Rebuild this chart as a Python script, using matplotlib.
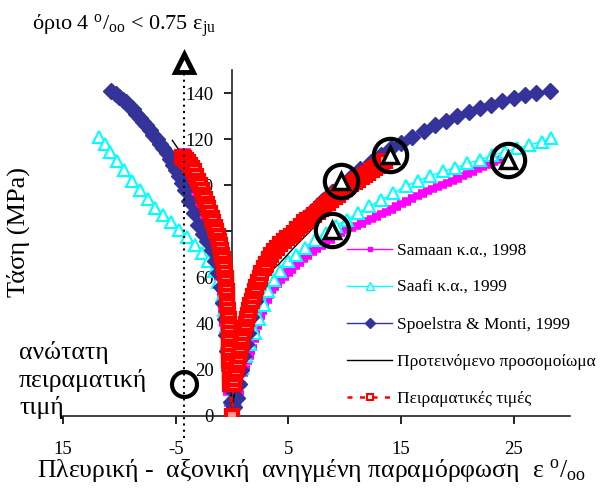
import matplotlib
matplotlib.use("Agg")
import matplotlib.pyplot as plt
from matplotlib.lines import Line2D

plt.rcParams['font.family'] = ['Liberation Serif', 'DejaVu Serif']
plt.rcParams['mathtext.fontset'] = 'custom'
plt.rcParams['mathtext.rm'] = 'Liberation Serif'
plt.rcParams['mathtext.it'] = 'Liberation Serif:italic'

# ---------------- data ----------------
# Samaan et al., 1998 (lateral strain negative, axial strain positive)
samaan_x = [-4.25, -4.15, -4.05, -3.95, -3.85, -3.7, -3.6, -3.45, -3.3, -3.1, -2.95, -2.8, -2.6, -2.4,
            -2.2, -2.0, -1.8, -1.65, -1.5, -1.35, -1.2, -1.1, -1.0, -0.9, -0.8, -0.75, -0.7, -0.65,
            -0.6, -0.55, -0.5, -0.45, -0.4, -0.35, -0.3, -0.25, -0.2, -0.15, -0.1, 0.0,
            0.2, 0.4, 0.6, 0.8, 1.0, 1.15, 1.3, 1.45, 1.6, 1.75, 1.9, 2.05, 2.2, 2.35, 2.5, 2.7, 2.9,
            3.1, 3.3, 3.55, 3.8, 4.1, 4.4, 4.75, 5.1, 5.45, 5.8, 6.15, 6.5, 6.9, 7.3, 7.7, 8.1, 8.55,
            9.0, 9.45, 9.9, 10.35, 10.8, 11.25, 11.7, 12.15, 12.6, 13.05, 13.5, 13.95, 14.4, 14.85,
            15.3, 15.75, 16.2, 16.65, 17.1, 17.55, 18.0, 18.45, 18.9, 19.35, 19.8, 20.25, 20.7,
            21.15, 21.6, 22.05, 22.5, 22.95, 23.4, 23.8, 24.2]
samaan_y = [115, 112.5, 110, 107.5, 105, 102.5, 100, 97.5, 95, 92.5, 90, 87.5, 85, 82.5,
            80, 77.5, 75, 72.5, 70, 67.5, 65, 62.5, 60, 57.5, 55, 52.5, 50, 47.5,
            45, 42.5, 40, 37.5, 35, 30, 25, 20, 15, 10, 5, 0,
            5, 10, 14, 18, 21, 23.3, 25.5, 27.8, 30, 33, 36, 38.5, 41, 43, 45, 47.5, 50,
            52, 54, 55.5, 57, 58.5, 60, 61.5, 63, 64.5, 66, 67.5, 69, 70.5, 72, 73.3, 74.5, 76,
            77.5, 78.8, 80, 81, 82, 83, 84, 85, 86, 87, 88, 89, 90, 91.3,
            92.5, 93.8, 95, 96, 97, 98, 99, 99.8, 100.5, 101.5, 102.5, 103.5, 104.5,
            105.5, 106.5, 107.5, 108.5, 109.5, 110.5, 111.3, 112]

# Saafi et al., 1999
saafi_x = [-11.8, -11.3, -10.8, -10.2, -9.6, -8.9, -8.2, -7.5, -6.8, -6.1, -5.4, -4.7, -4.0, -3.3,
           -2.7, -2.1, -1.6, -1.2, -0.9, -0.7, -0.5, -0.4, -0.3, -0.2, -0.1, 0.0,
           0.3, 0.6, 0.9, 1.2, 1.6, 2.0, 2.4, 2.8, 3.2, 3.7, 4.3, 5.0, 5.7, 6.5, 7.4, 8.3, 9.2,
           10.2, 11.2, 12.2, 13.2, 14.3, 15.4, 16.5, 17.6, 18.7, 19.8, 20.9, 22.0, 23.1, 24.2,
           25.3, 26.4, 27.5, 28.3]
saafi_y = [121, 118, 114.5, 110.5, 106.5, 102, 98, 94, 90, 87, 84, 80.5, 77.5, 74,
           70.5, 67, 63, 58, 52, 46, 39, 32, 24, 16, 8, 0,
           8, 15, 21, 26, 31, 36, 42, 48, 54, 59, 63, 67, 70, 73, 76.5, 79.5, 82.5,
           85, 88, 91, 93.5, 96.5, 99.5, 102, 104, 106, 107.5, 109.5, 111, 113, 114.5,
           116, 117.5, 119, 120.5]

# Spoelstra & Monti, 1999
spoel_x = [-10.7, -10.3, -10.0, -9.7, -9.4, -9.1, -8.8, -8.5, -8.2, -7.9, -7.6, -7.3, -7.0, -6.7,
           -6.4, -6.1, -5.8, -5.5, -5.2, -4.95, -4.7, -4.45, -4.2, -3.8, -3.4,
           -3.0, -2.6, -2.2, -1.8, -1.5, -1.2, -1.0, -0.8, -0.6, -0.5, -0.4, -0.3, -0.2, -0.1, 0.0,
           0.2, 0.4, 0.6, 0.8, 1.0, 1.2, 1.4, 1.7, 2.0, 2.4, 2.9, 3.4, 4.0, 4.8, 5.6, 6.3, 7.1,
           8.0, 8.9, 9.8, 10.6, 11.4, 12.3, 13.2, 14.1, 15.0, 16.0, 17.0, 18.0, 19.0, 20.0,
           21.0, 22.0, 23.0, 24.0, 25.0, 26.0, 27.0, 28.2]
spoel_y = [141, 139.5, 138.5, 137, 136, 134.5, 133, 131, 129, 127.5, 126, 124, 122, 120,
           118, 116, 114, 111.5, 109, 106.5, 104, 101, 98, 93, 88,
           83, 79, 76, 72, 67, 62, 56, 49, 42, 35, 28, 20, 12, 6, 0,
           4, 8, 14, 20, 26, 31, 36, 43, 50, 57, 63, 68, 73, 78, 82, 85.5, 89,
           93, 97, 100.5, 103.5, 107, 110, 113, 116, 118.5, 121, 123.5, 126, 128, 130,
           132, 133.5, 135, 136.5, 138, 139, 140, 141]

# Proposed model
model_x = [-5.3, -4.8, -4.2, -3.5, -2.8, -2.1, -1.5, -1.0, -0.6, -0.35, -0.2, -0.1, 0.0,
           0.3, 0.6, 1.0, 1.5, 2.2, 3.0, 4.2, 5.5, 6.5, 7.5, 8.5, 9.5, 10.5, 11.5, 12.5, 13.5, 14.0]
model_y = [119.5, 116, 110, 102, 94, 86, 78, 70, 60, 45, 30, 15, 0,
           15, 28, 40, 50, 57, 61, 66, 73, 78, 83, 89, 95, 100, 104.5, 108.5, 112, 113.5]

# Experimental values
exp_x = [-4.45, -4.3, -4.1, -3.9, -3.7, -3.55, -3.35, -3.2, -3.0, -2.85, -2.7, -2.55, -2.4, -2.25,
         -2.1, -1.95, -1.8, -1.65, -1.5, -1.4, -1.25, -1.15, -1.05, -1.0, -0.9, -0.8, -0.75, -0.7,
         -0.6, -0.55, -0.5, -0.5, -0.45, -0.45, -0.4, -0.4, -0.35, -0.35, -0.3, -0.3, -0.3, -0.3,
         -0.3, -0.3, -0.25, -0.25, -0.25, -0.25, -0.2, -0.2, -0.2, -0.15, -0.15, 0.0,
         0.15, 0.2, 0.3, 0.35, 0.45, 0.5, 0.6, 0.7, 0.75, 0.85, 0.9, 1.0, 1.1, 1.2, 1.3, 1.4,
         1.5, 1.6, 1.75, 1.85, 2.0, 2.15, 2.3, 2.45, 2.6, 2.8, 3.0, 3.25, 3.5, 3.75, 4.0, 4.3,
         4.6, 4.9, 5.2, 5.5, 5.8, 6.1, 6.4, 6.7, 7.0, 7.3, 7.6, 7.9, 8.2, 8.5, 8.8, 9.1, 9.4,
         9.7, 10.0, 10.3, 10.6, 10.9, 11.2, 11.5, 11.8, 12.1, 12.4, 12.7, 13.0, 13.3, 13.6]
exp_y = [112.5, 112, 111, 110, 109, 107.5, 106, 104, 102, 100, 98, 96, 94, 92,
         90, 88, 86, 84, 82, 80, 78, 76, 74, 72, 70, 68, 66, 64,
         62, 60, 58, 56, 54, 52, 50, 48, 46, 44, 42, 40, 38, 36,
         34, 32, 30, 28, 26, 24, 22, 20, 18, 16, 14, 0,
         14, 16, 18, 20, 22, 24, 26, 28, 30, 32, 34, 36, 38, 40, 42, 44,
         46, 48, 50, 52, 54, 56, 58, 60, 62, 64, 66, 68, 70, 71.5, 73, 74.5,
         76, 77, 78, 79.5, 81, 82.5, 84, 85, 86, 87.3, 88.5, 89.8, 91, 92.3, 93.5, 94.8, 96,
         97.3, 98.5, 99.5, 100.5, 101.5, 102.5, 103.5, 104.5, 105.5, 106.5, 107.5, 108.5, 109.5, 110.5]

# Ultimate points (circle + triangle)
ult_x = [9.7, 14.0, 8.9, 24.5]
ult_y = [102, 113, 80.6, 111]

# annotation positions
limit_x = -4.3
limit_tri_y = 153
maxexp_y = 14

xticks = [-15, -5, 5, 15, 25]
xtick_labels = ['15', '-5', '5', '15', '25']
yticks = [0, 20, 40, 60, 80, 100, 120, 140]

legend_labels = ['Samaan κ.α., 1998', 'Saafi κ.α., 1999', 'Spoelstra & Monti, 1999',
                 'Προτεινόμενο προσομοίωμα', 'Πειραματικές τιμές']

# ---------------- colours ----------------
C_SAM = '#FF00FF'
C_SAA = '#00FFFF'
C_SPO = '#333399'
C_MOD = '#000000'
C_EXP = '#FF0000'

fig = plt.figure(figsize=(6.08, 4.99), dpi=100)
ax = fig.add_axes([63 / 608, 1 - 416 / 499, (570 - 63) / 608, (416 - 70) / 499])

ax.plot(samaan_x, samaan_y, color=C_SAM, lw=1, marker='_', ms=10, mew=4, zorder=3)
ax.plot(saafi_x, saafi_y, color=C_SAA, lw=1, marker='^', ms=9, mfc='white', mec=C_SAA, mew=1.5, zorder=3)
ax.plot(spoel_x, spoel_y, color=C_SPO, lw=1, marker='D', ms=8.5, mec=C_SPO, zorder=4)
ax.plot(model_x, model_y, color=C_MOD, lw=1, zorder=5)
ax.plot(exp_x, exp_y, color=C_EXP, lw=2, ls=(0, (2, 3)), marker='s', ms=8, mfc='#ff9999',
        mec=C_EXP, mew=3, zorder=6)

ax.plot(ult_x, ult_y, ls='none', marker='o', ms=24, mfc='none', mec='black', mew=3, zorder=8)
ax.plot(ult_x, ult_y, ls='none', marker='^', ms=11, mfc='white', mec='black', mew=2.5, zorder=8)

ax.vlines(limit_x, -9.5, 151, colors='black', linestyles=(0, (1, 2)), lw=1.5, clip_on=False, zorder=7)
ax.plot([limit_x], [limit_tri_y], ls='none', marker='^', ms=13, mfc='white', mec='black', mew=3.5,
        clip_on=False, zorder=9)
ax.plot([limit_x], [maxexp_y], ls='none', marker='o', ms=18, mfc='none', mec='black', mew=3,
        clip_on=False, zorder=9)

ax.set_xlim(-15, 30)
ax.set_ylim(0, 150)
ax.set_xticks(xticks)
ax.set_xticklabels(xtick_labels)
ax.set_yticks(yticks)
ax.spines['left'].set_position(('data', 0))
ax.spines['top'].set_visible(False)
ax.spines['right'].set_visible(False)
for s in ('left', 'bottom'):
    ax.spines[s].set_linewidth(1.2)
    ax.spines[s].set_color('#222222')
    ax.spines[s].set_zorder(2)
ax.tick_params(axis='x', direction='out', length=6, width=1.2, pad=12, labelsize=13.5)
ax.tick_params(axis='y', direction='out', length=6, width=1.2, pad=7, labelsize=13.5)
ax.patch.set_visible(False)

handles = [
    Line2D([], [], color=C_SAM, lw=1, marker='s', ms=2.5),
    Line2D([], [], color=C_SAA, lw=1, marker='^', ms=6, mfc='white', mec=C_SAA),
    Line2D([], [], color=C_SPO, lw=1, marker='D', ms=5),
    Line2D([], [], color=C_MOD, lw=1),
    Line2D([], [], color=C_EXP, lw=1.8, ls=(0, (2, 3)), marker='s', ms=5, mfc='white', mec=C_EXP, mew=1.5),
]
fig.legend(handles, legend_labels, loc='center left', bbox_to_anchor=(347 / 608, 1 - 325 / 499),
           frameon=False, fontsize=12.5, handlelength=2.6, handletextpad=0.3, labelspacing=1.2,
           borderpad=0, borderaxespad=0)

fig.text(32 / 608, 1 - 26 / 499, r'όριο 4 $^{\mathrm{o}}/_{\mathrm{oo}}$ < 0.75 ε$_{\mathrm{ju}}$',
         fontsize=16, ha='left', va='center')
fig.text(19 / 608, 1 - 380 / 499, 'ανώτατη\nπειραματική\nτιμή', fontsize=18.5, ha='left', va='center',
         linespacing=1.25)
fig.text(18 / 608, 1 - 232 / 499, 'Τάση (MPa)', fontsize=19, rotation=90, ha='center', va='center')
fig.text(311 / 608, 1 - 470 / 499,
         r'Πλευρική -  αξονική  ανηγμένη παραμόρφωση  ε $^{\mathrm{o}}/_{\mathrm{oo}}$',
         fontsize=18.5, ha='center', va='center')

fig.savefig('out.png', dpi=100)
